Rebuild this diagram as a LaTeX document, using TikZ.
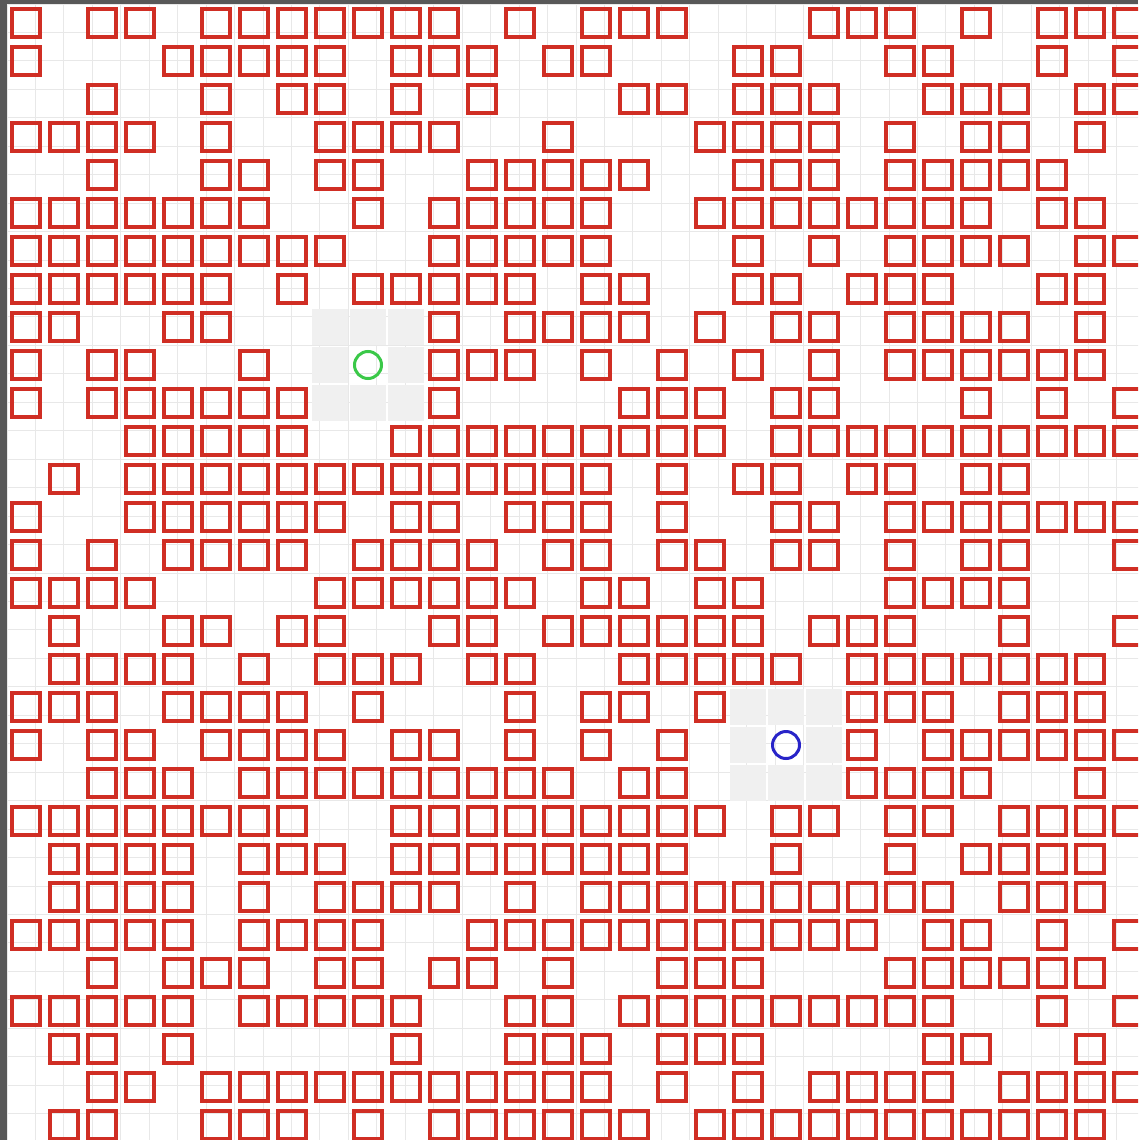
\documentclass[tikz,border=0pt]{standalone}
\usepackage{tikz}
\definecolor{wallred}{RGB}{208,46,36}
\definecolor{startgreen}{RGB}{58,200,72}
\definecolor{goalblue}{RGB}{40,36,200}
\definecolor{framegray}{RGB}{88,88,88}
\definecolor{seengray}{RGB}{240,240,240}
\definecolor{linegray}{RGB}{232,232,232}

\begin{document}
\begin{tikzpicture}[x=38pt, y=-38pt]
\tikzstyle{wall}=[draw=wallred, shape=rectangle, line width=3.6pt, minimum size=27.5pt, inner sep=0pt];
\tikzstyle{seen}=[fill=seengray, shape=rectangle, minimum size=36pt, inner sep=0pt];
\tikzstyle{start}=[draw=startgreen, shape=circle, line width=3pt, minimum size=27pt, inner sep=0pt];
\tikzstyle{goal}=[draw=goalblue, shape=circle, line width=3pt, minimum size=27pt, inner sep=0pt];

\useasboundingbox (-0.18421,-0.10526) rectangle (29.76316,29.89474);
\fill[white] (-0.18421,-0.10526) rectangle (29.76316,29.89474);

% frame
\fill[framegray] (-0.18421,-0.10526) rectangle (0,29.89474);
\fill[framegray] (-0.18421,-0.10526) rectangle (29.76316,0);

\begin{scope}
\clip (0,0) rectangle (29.76316,29.89474);

% grid
\draw[linegray, line width=1pt] (0,0) grid (30,30);

% cells around start and goal
\foreach \r/\c in {8/8,8/9,8/10,9/8,9/10,10/8,10/9,10/10,
                   18/19,18/20,18/21,19/19,19/21,20/19,20/20,20/21}
  \node[seen] (s\r-\c) at (\c+0.5,\r+0.5) {};

% walls, row by row
\foreach \r/\cols in {
  0/{0,2,3,5,6,7,8,9,10,11,13,15,16,17,21,22,23,25,27,28,29},
  1/{0,4,5,6,7,8,10,11,12,14,15,19,20,23,24,27,29},
  2/{2,5,7,8,10,12,16,17,19,20,21,24,25,26,28,29},
  3/{0,1,2,3,5,8,9,10,11,14,18,19,20,21,23,25,26,28},
  4/{2,5,6,8,9,12,13,14,15,16,19,20,21,23,24,25,26,27},
  5/{0,1,2,3,4,5,6,9,11,12,13,14,15,18,19,20,21,22,23,24,25,27,28},
  6/{0,1,2,3,4,5,6,7,8,11,12,13,14,15,19,21,23,24,25,26,28,29},
  7/{0,1,2,3,4,5,7,9,10,11,12,13,15,16,19,20,22,23,24,27,28},
  8/{0,1,4,5,11,13,14,15,16,18,20,21,23,24,25,26,28},
  9/{0,2,3,6,11,12,13,15,17,19,21,23,24,25,26,27,28},
  10/{0,2,3,4,5,6,7,11,16,17,18,20,21,25,27,29},
  11/{3,4,5,6,7,10,11,12,13,14,15,16,17,18,20,21,22,23,24,25,26,27,28,29},
  12/{1,3,4,5,6,7,8,9,10,11,12,13,14,15,17,19,20,22,23,25,26},
  13/{0,3,4,5,6,7,8,10,11,13,14,15,17,20,21,23,24,25,26,27,28,29},
  14/{0,2,4,5,6,7,9,10,11,12,14,15,17,18,20,21,23,25,26,29},
  15/{0,1,2,3,8,9,10,11,12,13,15,16,18,19,23,24,25,26},
  16/{1,4,5,7,8,11,12,14,15,16,17,18,19,21,22,23,26,29},
  17/{1,2,3,4,6,8,9,10,12,13,16,17,18,19,20,22,23,24,25,26,27,28},
  18/{0,1,2,4,5,6,7,9,13,15,16,18,22,23,24,26,27,28},
  19/{0,2,3,5,6,7,8,10,11,13,15,17,22,24,25,26,27,28,29},
  20/{2,3,4,6,7,8,9,10,11,12,13,14,16,17,22,23,24,25,28},
  21/{0,1,2,3,4,5,6,7,10,11,12,13,14,15,16,17,18,20,21,23,24,26,27,28,29},
  22/{1,2,3,4,6,7,8,10,11,12,13,14,15,16,17,20,23,25,26,27,28},
  23/{1,2,3,4,6,8,9,10,11,13,15,16,17,18,19,20,21,22,23,24,26,27,28},
  24/{0,1,2,3,4,6,7,8,9,12,13,14,15,16,17,18,19,20,21,22,24,25,27,29},
  25/{2,4,5,6,8,9,11,12,14,17,18,19,23,24,25,26,27,28},
  26/{0,1,2,3,4,6,7,8,9,10,13,14,16,17,18,19,20,21,22,23,24,27,29},
  27/{1,2,4,10,13,14,15,17,18,19,24,25,28},
  28/{2,3,5,6,7,8,9,10,11,12,13,14,15,17,19,21,22,23,24,26,27,28,29},
  29/{1,2,5,6,7,9,11,12,13,14,15,16,18,19,20,21,22,23,24,25,26,27,28}}
  \foreach \c in \cols
    \node[wall] (w\r-\c) at (\c+0.5,\r+0.5) {};

% start and goal
\node[start] (start) at (9.5,9.5) {};
\node[goal] (goal) at (20.5,19.5) {};
\end{scope}

\end{tikzpicture}
\end{document}
